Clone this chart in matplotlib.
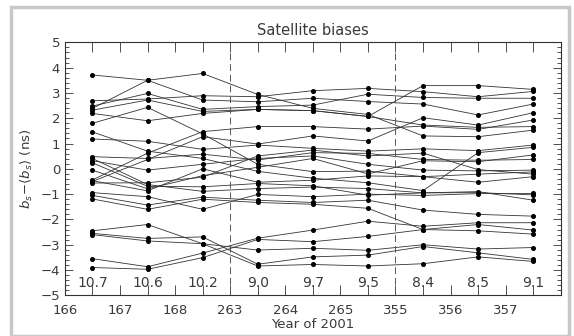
import matplotlib
matplotlib.use('Agg')
import matplotlib.pyplot as plt
from matplotlib.patches import Rectangle
from matplotlib.ticker import MultipleLocator

# jours de l'annee 2001 (3 periodes de 3 jours)
day_labels = ['166', '167', '168', '263', '264', '265', '355', '356', '357']
# valeurs affichees dans le bas du graphe
day_values = ['10.7', '10.6', '10.2', '9.0', '9.7', '9.5', '8.4', '8.5', '9.1']
day_pos = [0.5, 1.5, 2.5, 3.5, 4.5, 5.5, 6.5, 7.5, 8.5]

# biais des satellites (ns), une liste par satellite
sat_a = [3.71, 3.50, 3.77, 2.94, 2.39, 2.15, 1.30, 1.27, 1.53]
sat_b = [2.69, 2.76, 2.89, 2.85, 3.09, 3.18, 3.05, 2.85, 3.06]
sat_c = [2.48, 2.98, 2.35, 2.46, 2.52, 2.95, 2.82, 2.79, 2.79]
sat_d = [2.39, 3.50, 2.72, 2.65, 2.79, 2.66, 2.56, 2.13, 2.56]
sat_e = [2.32, 2.72, 2.27, 2.35, 2.30, 2.07, 3.29, 3.29, 3.14]
sat_f = [2.19, 1.90, 2.19, 2.35, 2.30, 2.07, 1.73, 1.64, 1.67]
sat_g = [1.80, 2.43, 1.38, 0.18, -0.11, -0.09, -0.31, -0.21, -0.12]
sat_h = [1.46, 0.70, 0.41, -0.10, -0.37, -0.55, -0.86, 0.64, 0.85]
sat_i = [1.18, 1.09, 0.77, 0.94, 0.81, 0.70, 0.79, 0.72, 0.94]
sat_j = [-0.44, 0.62, 1.47, 1.67, 1.67, 1.57, 1.69, 1.56, 1.93]
sat_k = [-0.50, 0.37, 1.27, 0.98, 1.30, 1.10, 2.02, 1.73, 2.22]
sat_l = [0.48, 0.41, 0.58, 0.35, 0.64, 0.61, 0.37, 0.34, 0.37]
sat_m = [0.41, -0.62, -0.89, -0.78, -0.72, -0.78, -0.95, -0.90, -1.24]
sat_n = [0.32, -0.05, 0.18, 0.41, 0.51, 0.18, -0.05, -0.08, -0.05]
sat_o = [0.24, -0.69, -0.71, -0.58, -0.67, -1.04, -0.95, -0.94, -1.03]
sat_p = [-0.05, -0.79, -0.27, 0.06, 0.41, -0.20, 0.32, 0.28, 0.55]
sat_q = [-0.56, -0.55, -0.33, 0.51, 0.74, 0.51, 0.62, -0.03, -0.21]
sat_r = [-0.47, -0.87, 0.00, -0.53, -0.45, -0.28, -0.31, -0.53, -0.31]
sat_s = [-0.94, -1.10, -1.60, -1.01, -1.10, -1.00, -1.05, -0.98, -0.97]
sat_t = [-1.05, -1.43, -1.12, -1.24, -1.33, -1.24, -1.63, -1.80, -1.87]
sat_u = [-1.19, -1.60, -1.20, -1.33, -1.40, -1.56, -2.40, -2.20, -2.42]
sat_v = [-2.45, -2.20, -2.96, -3.84, -3.78, -3.84, -3.75, -3.48, -3.66]
sat_w = [-2.55, -2.75, -2.69, -3.77, -3.48, -3.41, -3.07, -3.32, -3.58]
sat_x = [-2.60, -2.85, -2.96, -3.21, -3.14, -3.22, -3.00, -3.17, -3.11]
sat_y = [-3.55, -3.87, -3.33, -2.74, -2.42, -2.07, -2.27, -2.13, -2.13]
sat_z = [-3.90, -3.97, -3.51, -2.79, -2.88, -2.67, -2.40, -2.45, -2.58]

satellites = [sat_a, sat_b, sat_c, sat_d, sat_e, sat_f, sat_g, sat_h, sat_i,
              sat_j, sat_k, sat_l, sat_m, sat_n, sat_o, sat_p, sat_q, sat_r,
              sat_s, sat_t, sat_u, sat_v, sat_w, sat_x, sat_y, sat_z]

txt = '#3a3a3a'
fig = plt.figure(figsize=(5.74, 3.36), dpi=100)
ax = fig.add_axes([0.113, 0.121, 0.864, 0.753])

# cadre gris autour de la figure
fig.patches.append(Rectangle((0.019, 0.0), 0.972, 0.978, transform=fig.transFigure,
                             fill=False, edgecolor='#c8c8c8', linewidth=2.5))

for sat in satellites:
    ax.plot(day_pos, sat, color='#333333', linewidth=0.6,
            marker='o', markersize=2.6, markerfacecolor='black',
            markeredgecolor='black')

# separation des periodes
for xs in [3, 6]:
    ax.axvline(xs, color='#555555', linewidth=0.7, dashes=(7, 4))

for xp, lab in zip(day_pos, day_values):
    ax.text(xp, -4.5, lab, ha='center', va='center', fontsize=10, color=txt)

ax.set_xlim(0, 9)
ax.set_ylim(-5, 5)
ax.set_xticks(range(9))
ax.set_xticklabels(day_labels)
ax.xaxis.set_minor_locator(MultipleLocator(0.5))
ax.yaxis.set_major_locator(MultipleLocator(1))
ax.yaxis.set_minor_locator(MultipleLocator(0.2))
ax.tick_params(which='both', direction='in', top=True, right=True,
               labelsize=9.5, labelcolor=txt, color='#333333', width=0.6)
ax.tick_params(axis='y', which='major', length=6)
ax.tick_params(axis='y', which='minor', length=3)
ax.tick_params(axis='x', which='major', length=7, pad=6)
ax.tick_params(axis='x', which='minor', length=7)
for sp in ax.spines.values():
    sp.set_linewidth(0.8)
    sp.set_color('#333333')

ax.set_title('Satellite biases', fontsize=10.5, color=txt, pad=5)
ax.set_xlabel('Year of 2001', fontsize=9.5, color=txt, labelpad=1)
ax.set_ylabel(r'$\mathbf{\it{b}}_s\!-\!\langle \mathbf{\it{b}}_s\rangle$ (ns)', fontsize=9.5, color=txt, labelpad=4)

fig.savefig('out.png', dpi=100)
